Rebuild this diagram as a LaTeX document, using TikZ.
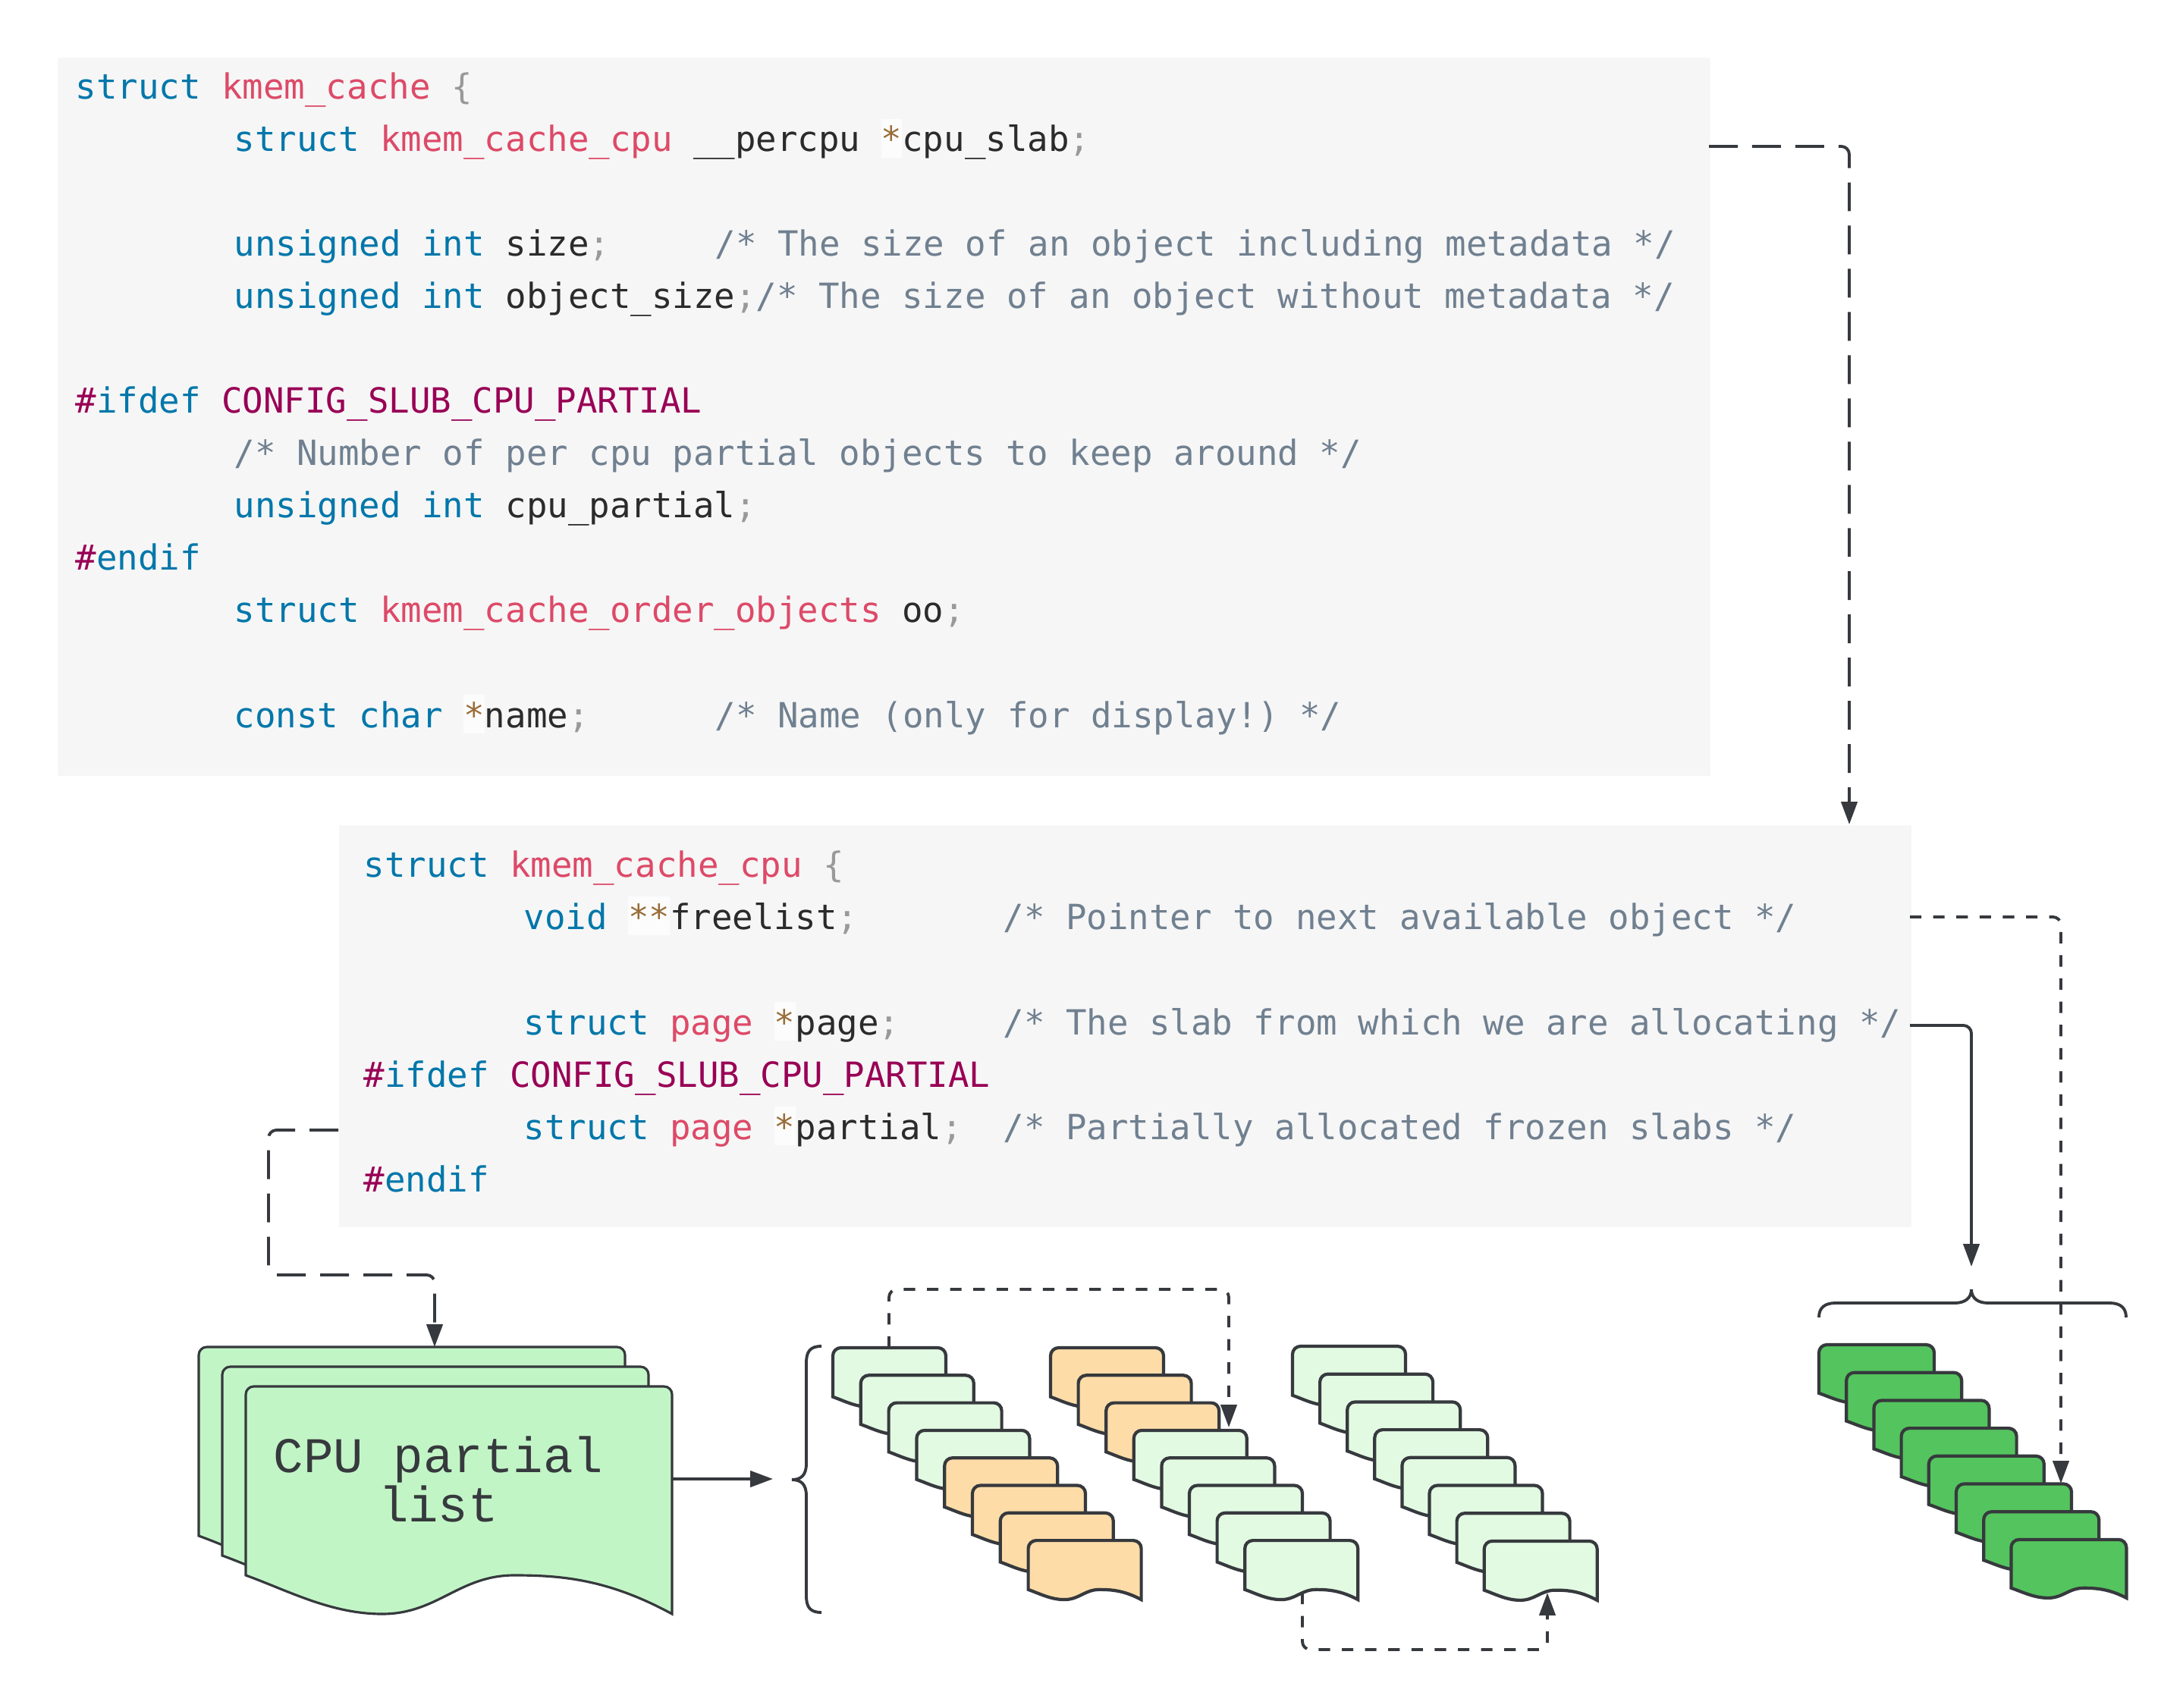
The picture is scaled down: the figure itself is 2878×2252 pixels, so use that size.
\documentclass[tikz,border=0pt]{standalone}
\usepackage{fontspec}
\setmonofont{DejaVu Sans Mono}
\newfontfamily\listfont{Liberation Mono}
\usetikzlibrary{arrows.meta}
\definecolor{kwc}{HTML}{0077AA}
\definecolor{cnc}{HTML}{DD4A68}
\definecolor{cmc}{HTML}{708090}
\definecolor{puc}{HTML}{999999}
\definecolor{opc}{HTML}{9A6E3A}
\definecolor{mcc}{HTML}{990055}
\definecolor{txc}{HTML}{2B2B2B}
\definecolor{codebg}{HTML}{F6F6F6}
\definecolor{opbg}{HTML}{FCFCFC}
\definecolor{ink}{HTML}{36393D}
\definecolor{sheetc}{HTML}{C2F5C6}
\definecolor{freec}{HTML}{E2FAE2}
\definecolor{usedc}{HTML}{FDDCA8}
\definecolor{fullc}{HTML}{54C45E}
% token colours
\newcommand\kw[1]{{\color{kwc}#1}}
\newcommand\cn[1]{{\color{cnc}#1}}
\newcommand\cmt[1]{{\color{cmc}#1}}
\newcommand\pu[1]{{\color{puc}#1}}
\newcommand\mac[1]{{\color{mcc}#1}}
\newcommand\opr[1]{{\setlength\fboxsep{0pt}\colorbox{opbg}{\rule[-2.3pt]{0pt}{14.5pt}\color{opc}#1}}}
% page shape: style, fill, x, y, w, h
\newcommand\docshape[6]{%
  \pgfmathsetmacro\dx{#3}\pgfmathsetmacro\dy{#4}%
  \pgfmathsetmacro\dw{#5}\pgfmathsetmacro\dh{#6}\pgfmathsetmacro\da{0.17*#6}%
  \filldraw[#1,fill=#2] (\dx,\dy+\dh-\da) [rounded corners=3pt] -- (\dx,\dy) -- (\dx+\dw,\dy) [sharp corners] -- (\dx+\dw,\dy+\dh)
    .. controls (\dx+0.85*\dw,\dy+\dh-0.9*\da) and (\dx+0.74*\dw,\dy+\dh-\da) .. (\dx+0.63*\dw,\dy+\dh-\da)
    .. controls (\dx+0.5*\dw,\dy+\dh-\da) and (\dx+0.45*\dw,\dy+\dh) .. (\dx+0.32*\dw,\dy+\dh)
    .. controls (\dx+0.2*\dw,\dy+\dh) and (\dx+0.1*\dw,\dy+\dh-0.6*\da) .. (\dx,\dy+\dh-\da) -- cycle;}
\tikzset{
  code/.style={anchor=base west,inner sep=0pt,font=\ttfamily\fontsize{13}{16}\selectfont,text=txc},
  codebox/.style={fill=codebg,inner sep=0pt,anchor=north west},
  link/.style={draw=ink,line width=1.1pt,rounded corners=3pt,-{Triangle[length=8.5pt,width=6pt]}},
  longdash/.style={dash pattern=on 10.8pt off 5.4pt},
  shortdash/.style={dash pattern=on 4.3pt off 4.4pt},
  sheet/.style={draw=ink,line width=0.9pt},
  slab/.style={draw=ink,line width=1.2pt},
  bracket/.style={draw=ink,line width=1.1pt}
}
\begin{document}
\begin{tikzpicture}[x=0.01cm,y=-0.01cm]
\useasboundingbox (0,0) rectangle (2878,2252);
\fill[white] (0,0) rectangle (2878,2252);
% struct kmem_cache
\node[codebox,minimum width=21.78cm,minimum height=9.47cm] (kmem) at (75,75) {};
\node[code] (k0) at (99,131) {\kw{struct} \cn{kmem\_cache} \pu{\{}};
\node[code] (k1) at (308,200) {\kw{struct} \cn{kmem\_cache\_cpu} \_\_percpu \opr{*}cpu\_slab\pu{;}};
\node[code] (k3) at (308,338) {\kw{unsigned} \kw{int} size\pu{;}};
\node[code] (k3c) at (942,338) {\cmt{/* The size of an object including metadata */}};
\node[code] (k4) at (308,407) {\kw{unsigned} \kw{int} object\_size\pu{;}\cmt{/* The size of an object without metadata */}};
\node[code] (k6) at (99,545) {\mac{\#}\kw{ifdef} \mac{CONFIG\_SLUB\_CPU\_PARTIAL}};
\node[code] (k7) at (308,614) {\cmt{/* Number of per cpu partial objects to keep around */}};
\node[code] (k8) at (308,683) {\kw{unsigned} \kw{int} cpu\_partial\pu{;}};
\node[code] (k9) at (99,752) {\mac{\#}\kw{endif}};
\node[code] (k10) at (308,821) {\kw{struct} \cn{kmem\_cache\_order\_objects} oo\pu{;}};
\node[code] (k12) at (308,959) {\kw{const} \kw{char} \opr{*}name\pu{;}};
\node[code] (k12c) at (942,959) {\cmt{/* Name (only for display!) */}};
% struct kmem_cache_cpu
\node[codebox,minimum width=20.72cm,minimum height=5.30cm] (kcpu) at (446,1087) {};
\node[code] (c0) at (479,1156) {\kw{struct} \cn{kmem\_cache\_cpu} \pu{\{}};
\node[code] (c1) at (690,1225) {\kw{void} \opr{**}freelist\pu{;}};
\node[code] (c1c) at (1322,1225) {\cmt{/* Pointer to next available object */}};
\node[code] (c3) at (690,1364) {\kw{struct} \cn{page} \opr{*}page\pu{;}};
\node[code] (c3c) at (1322,1364) {\cmt{/* The slab from which we are allocating */}};
\node[code] (c4) at (479,1433) {\mac{\#}\kw{ifdef} \mac{CONFIG\_SLUB\_CPU\_PARTIAL}};
\node[code] (c5) at (690,1502) {\kw{struct} \cn{page} \opr{*}partial\pu{;}};
\node[code] (c5c) at (1322,1502) {\cmt{/* Partially allocated frozen slabs */}};
\node[code] (c6) at (479,1571) {\mac{\#}\kw{endif}};
% CPU partial list
\foreach \i in {0,1,2} \docshape{sheet}{sheetc}{262+31*\i}{1776+26*\i}{562}{300};
\node[font=\listfont\fontsize{18.7}{22}\selectfont,text=ink,anchor=base,inner sep=0pt] (list1) at (578,1941) {CPU partial};
\node[font=\listfont\fontsize{18.7}{22}\selectfont,text=ink,anchor=base,inner sep=0pt] (list2) at (578,2006) {list};
% slabs of the partial list
\foreach \i/\c in {0/freec,1/freec,2/freec,3/freec,4/usedc,5/usedc,6/usedc,7/usedc}
  \docshape{slab}{\c}{1098+36.8*\i}{1777+36.3*\i}{149}{78};
\foreach \i/\c in {0/usedc,1/usedc,2/usedc,3/freec,4/freec,5/freec,6/freec,7/freec}
  \docshape{slab}{\c}{1385+36.6*\i}{1777+36.3*\i}{149}{78};
\foreach \i in {0,...,7} \docshape{slab}{freec}{1704+36.1*\i}{1775+36.7*\i}{149}{78};
% current slab
\foreach \i in {0,...,7} \docshape{slab}{fullc}{2398+36.2*\i}{1773+36.7*\i}{152}{77};
% brackets
\draw[bracket] (1083,1775) .. controls (1068,1775) and (1063,1782) .. (1063,1797) -- (1063,1930)
  .. controls (1063,1945) and (1056,1951) .. (1044,1951) .. controls (1056,1951) and (1063,1957) .. (1063,1972)
  -- (1063,2104) .. controls (1063,2119) and (1068,2126) .. (1083,2126);
\draw[bracket] (2398,1737) .. controls (2398,1724) and (2406,1718) .. (2420,1718) -- (2577,1718)
  .. controls (2590,1718) and (2599,1712) .. (2599,1700) .. controls (2599,1712) and (2608,1718) .. (2621,1718)
  -- (2781,1718) .. controls (2795,1718) and (2803,1724) .. (2803,1737);
% connectors
\coordinate (slabout) at (2253,193); \coordinate (cpuin) at (2438,1087);
\coordinate (flout) at (2518,1209);  \coordinate (flin) at (2717,1956);
\coordinate (pgout) at (2518,1352);  \coordinate (pgin) at (2599,1670);
\coordinate (ptout) at (446,1490);   \coordinate (ptbend) at (354,1681); \coordinate (ptin) at (573,1776);
\coordinate (listout) at (887,1950); \coordinate (listin) at (1019,1950);
\coordinate (s1top) at (1172,1777);  \coordinate (s2in) at (1620,1882);
\coordinate (s2out) at (1717,2100);  \coordinate (s3in) at (2040,2100);
\draw[link,longdash] (slabout) -| (cpuin);
\draw[link,shortdash] (flout) -| (flin);
\draw[link] (pgout) -| (pgin);
\draw[link,longdash] (ptout) -| (ptbend) -| (ptin);
\draw[link] (listout) -- (listin);
\draw[link,shortdash] (s1top) -- ++(0,-77) -| (s2in);
\draw[link,shortdash] (s2out) -- ++(0,75) -| (s3in);
\end{tikzpicture}
\end{document}
